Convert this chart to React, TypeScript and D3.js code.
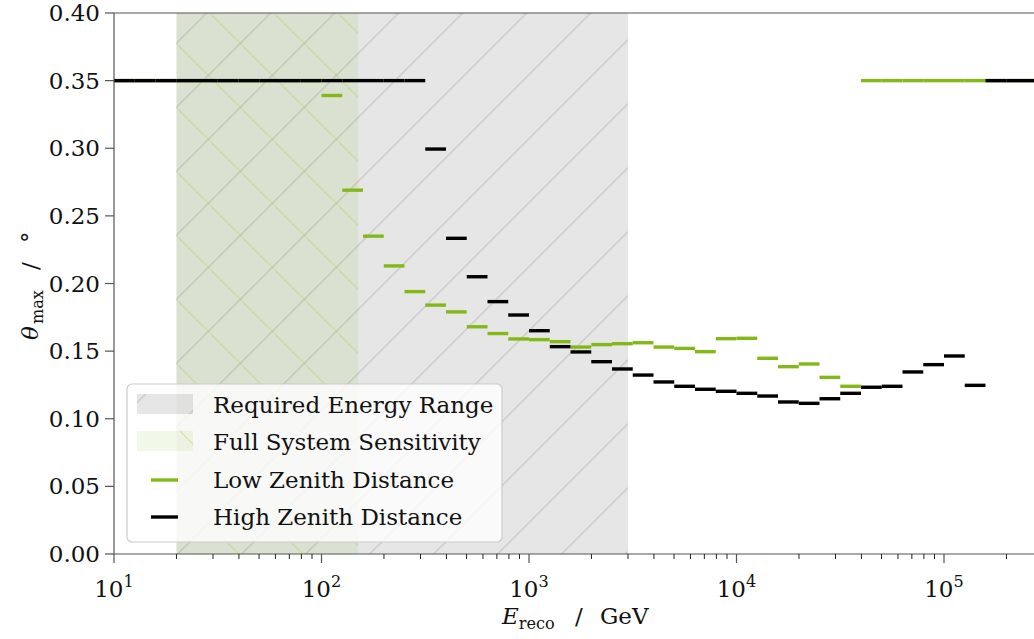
import React from "react";
import * as d3 from "d3";

// log10 bin edges of E_reco (GeV)
const binEdgesLog = [
  1.0, 1.1, 1.2, 1.3, 1.4, 1.5, 1.6, 1.7, 1.8, 1.9,
  2.0, 2.1, 2.2, 2.3, 2.4, 2.5, 2.6, 2.7, 2.8, 2.9,
  3.0, 3.1, 3.2, 3.3, 3.4, 3.5, 3.6, 3.7, 3.8, 3.9,
  4.0, 4.1, 4.2, 4.3, 4.4, 4.5, 4.6, 4.7, 4.8, 4.9,
  5.0, 5.1, 5.2, 5.3, 5.4, 5.5,
];

const lowZenith = [
  0.35, 0.35, 0.35, 0.35, 0.35, 0.35, 0.35, 0.35, 0.35, 0.35,
  0.339, 0.269, 0.235, 0.213, 0.194, 0.184, 0.179, 0.168, 0.163, 0.159,
  0.1585, 0.157, 0.153, 0.1548, 0.1555, 0.1562, 0.153, 0.152, 0.1496, 0.1592,
  0.1595, 0.1447, 0.1385, 0.1405, 0.1306, 0.124, 0.35, 0.35, 0.35, 0.35,
  0.35, 0.35, 0.35, 0.35, 0.35,
];

const highZenith = [
  0.35, 0.35, 0.35, 0.35, 0.35, 0.35, 0.35, 0.35, 0.35, 0.35,
  0.35, 0.35, 0.35, 0.35, 0.35, 0.2994, 0.2334, 0.205, 0.1866, 0.1767,
  0.1651, 0.1533, 0.1494, 0.1422, 0.1368, 0.1323, 0.1272, 0.124, 0.1218, 0.1203,
  0.1188, 0.1168, 0.1124, 0.1114, 0.1148, 0.1188, 0.1233, 0.124, 0.1346, 0.14,
  0.1464, 0.1247, 0.35, 0.35, 0.35,
];

const requiredRange = [20, 3000];
const fullSensitivity = [20, 150];

const yTicks = [0, 0.05, 0.1, 0.15, 0.2, 0.25, 0.3, 0.35, 0.4];
const xMajorTicks = [10, 100, 1000, 10000, 100000];
const xMajorExp = ["1", "2", "3", "4", "5"];

const legendLabels = [
  "Required Energy Range",
  "Full System Sensitivity",
  "Low Zenith Distance",
  "High Zenith Distance",
];

const GREEN = "#84b819";
const FONT = "DejaVu Serif";

export default function App() {
  const W = 1034;
  const H = 639;
  const left = 114;
  const top = 13;
  const bottom = 554;
  const decade = 207.5;
  const x = d3
    .scaleLog()
    .domain([10, Math.pow(10, 5.5)])
    .range([left, left + 4.5 * decade]);
  const y = d3.scaleLinear().domain([0, 0.4]).range([bottom, top]);
  const right = x.range()[1];

  const minor = x
    .ticks()
    .filter((t) => !xMajorTicks.some((m) => Math.abs(m - t) / m < 1e-6));

  const segs = (vals: number[]) =>
    vals.map((v, i) => ({
      x1: x(Math.pow(10, binEdgesLog[i])),
      x2: x(Math.pow(10, binEdgesLog[i + 1])),
      y: y(v),
    }));

  const fs = 23;
  const axisColor = "#555";
  const txt = { fontFamily: FONT } as React.CSSProperties;

  return (
    <svg
      width={W}
      height={H}
      style={{ position: "absolute", left: 0, top: 0, background: "#fff", fontFamily: FONT }}
    >
      <defs>
        <clipPath id="plot">
          <rect x={left} y={top} width={right - left} height={bottom - top} />
        </clipPath>
        <pattern
          id="hatchFwd"
          patternUnits="userSpaceOnUse"
          width={64}
          height={64}
          patternTransform="translate(27.7,0)"
        >
          <path
            d="M-16,16 L16,-16 M0,64 L64,0 M48,80 L80,48"
            stroke="rgba(128,128,128,0.3)"
            strokeWidth={1.4}
          />
        </pattern>
        <pattern
          id="hatchBack"
          patternUnits="userSpaceOnUse"
          width={64}
          height={64}
          patternTransform="translate(5,0)"
        >
          <path
            d="M-16,48 L16,80 M0,0 L64,64 M48,-16 L80,16"
            stroke="rgba(131,184,24,0.2)"
            strokeWidth={1.4}
          />
        </pattern>
      </defs>

      <g clipPath="url(#plot)">
        <rect
          x={x(requiredRange[0])}
          y={top}
          width={x(requiredRange[1]) - x(requiredRange[0])}
          height={bottom - top}
          fill="rgba(128,128,128,0.2)"
        />
        <rect
          x={x(requiredRange[0])}
          y={top}
          width={x(requiredRange[1]) - x(requiredRange[0])}
          height={bottom - top}
          fill="url(#hatchFwd)"
        />
        <rect
          x={x(fullSensitivity[0])}
          y={top}
          width={x(fullSensitivity[1]) - x(fullSensitivity[0])}
          height={bottom - top}
          fill="rgba(131,184,24,0.1)"
        />
        <rect
          x={x(fullSensitivity[0])}
          y={top}
          width={x(fullSensitivity[1]) - x(fullSensitivity[0])}
          height={bottom - top}
          fill="url(#hatchBack)"
        />

        {segs(lowZenith).map((s, i) => (
          <line key={"g" + i} x1={s.x1} x2={s.x2} y1={s.y} y2={s.y} stroke={GREEN} strokeWidth={3.4} />
        ))}
        {segs(highZenith).map((s, i) => (
          <line key={"b" + i} x1={s.x1} x2={s.x2} y1={s.y} y2={s.y} stroke="#000" strokeWidth={3.4} />
        ))}
      </g>

      {/* spines */}
      <line x1={left} x2={W} y1={top} y2={top} stroke={axisColor} strokeWidth={1.2} />
      <line x1={left} x2={W} y1={bottom} y2={bottom} stroke={axisColor} strokeWidth={1.2} />
      <line x1={left} x2={left} y1={top} y2={bottom} stroke={axisColor} strokeWidth={1.2} />

      {/* y ticks */}
      {yTicks.map((t) => (
        <g key={"yt" + t}>
          <line x1={left - 9} x2={left} y1={y(t)} y2={y(t)} stroke={axisColor} strokeWidth={1.2} />
          <text x={left - 14} y={y(t) + 8} textAnchor="end" fontSize={fs} fill="#111" style={txt}>
            {t.toFixed(2)}
          </text>
        </g>
      ))}

      {/* x ticks */}
      {minor.map((t, i) => (
        <line key={"xm" + i} x1={x(t)} x2={x(t)} y1={bottom} y2={bottom + 5} stroke="#222" strokeWidth={1} />
      ))}
      {xMajorTicks.map((t, i) => (
        <g key={"xt" + t}>
          <line x1={x(t)} x2={x(t)} y1={bottom} y2={bottom + 9} stroke={axisColor} strokeWidth={1.2} />
          <text x={x(t)} y={597} textAnchor="middle" fontSize={fs} fill="#111" style={txt}>
            10
            <tspan fontSize={fs * 0.7} dy={-10}>
              {xMajorExp[i]}
            </tspan>
          </text>
        </g>
      ))}

      {/* axis labels */}
      <text x={502} y={624} fontSize={fs} fill="#111" style={txt}>
        <tspan fontStyle="italic">E</tspan>
        <tspan fontSize={fs * 0.7} dy={5}>
          reco
        </tspan>
        <tspan x={575} dy={-5}>
          /
        </tspan>
        <tspan x={600}>GeV</tspan>
      </text>
      <text transform="translate(38,0) rotate(-90)" fontSize={fs} fill="#111" style={txt}>
        <tspan x={-340} fontStyle="italic">θ</tspan>
        <tspan x={-324} fontSize={fs * 0.7} dy={5}>
          max
        </tspan>
        <tspan x={-270} dy={-5}>/</tspan>
        <tspan x={-243}>°</tspan>
      </text>

      {/* legend */}
      <g>
        <rect
          x={127}
          y={384}
          width={375}
          height={158}
          rx={5}
          fill="rgba(255,255,255,0.8)"
          stroke="#cccccc"
          strokeWidth={1.2}
        />
        <rect x={137} y={394} width={56} height={20} fill="rgba(128,128,128,0.2)" />
        <rect x={137} y={394} width={56} height={20} fill="url(#hatchFwd)" />
        <rect x={137} y={431} width={56} height={20} fill="rgba(131,184,24,0.1)" />
        <rect x={137} y={431} width={56} height={20} fill="url(#hatchBack)" />
        <line x1={151} x2={178} y1={480} y2={480} stroke={GREEN} strokeWidth={3.4} />
        <line x1={151} x2={178} y1={517} y2={517} stroke="#000" strokeWidth={3.4} />
        {legendLabels.map((l, i) => (
          <text key={l} x={213} y={413 + i * 37.3} fontSize={fs} fill="#111" style={txt}>
            {l}
          </text>
        ))}
      </g>
    </svg>
  );
}
